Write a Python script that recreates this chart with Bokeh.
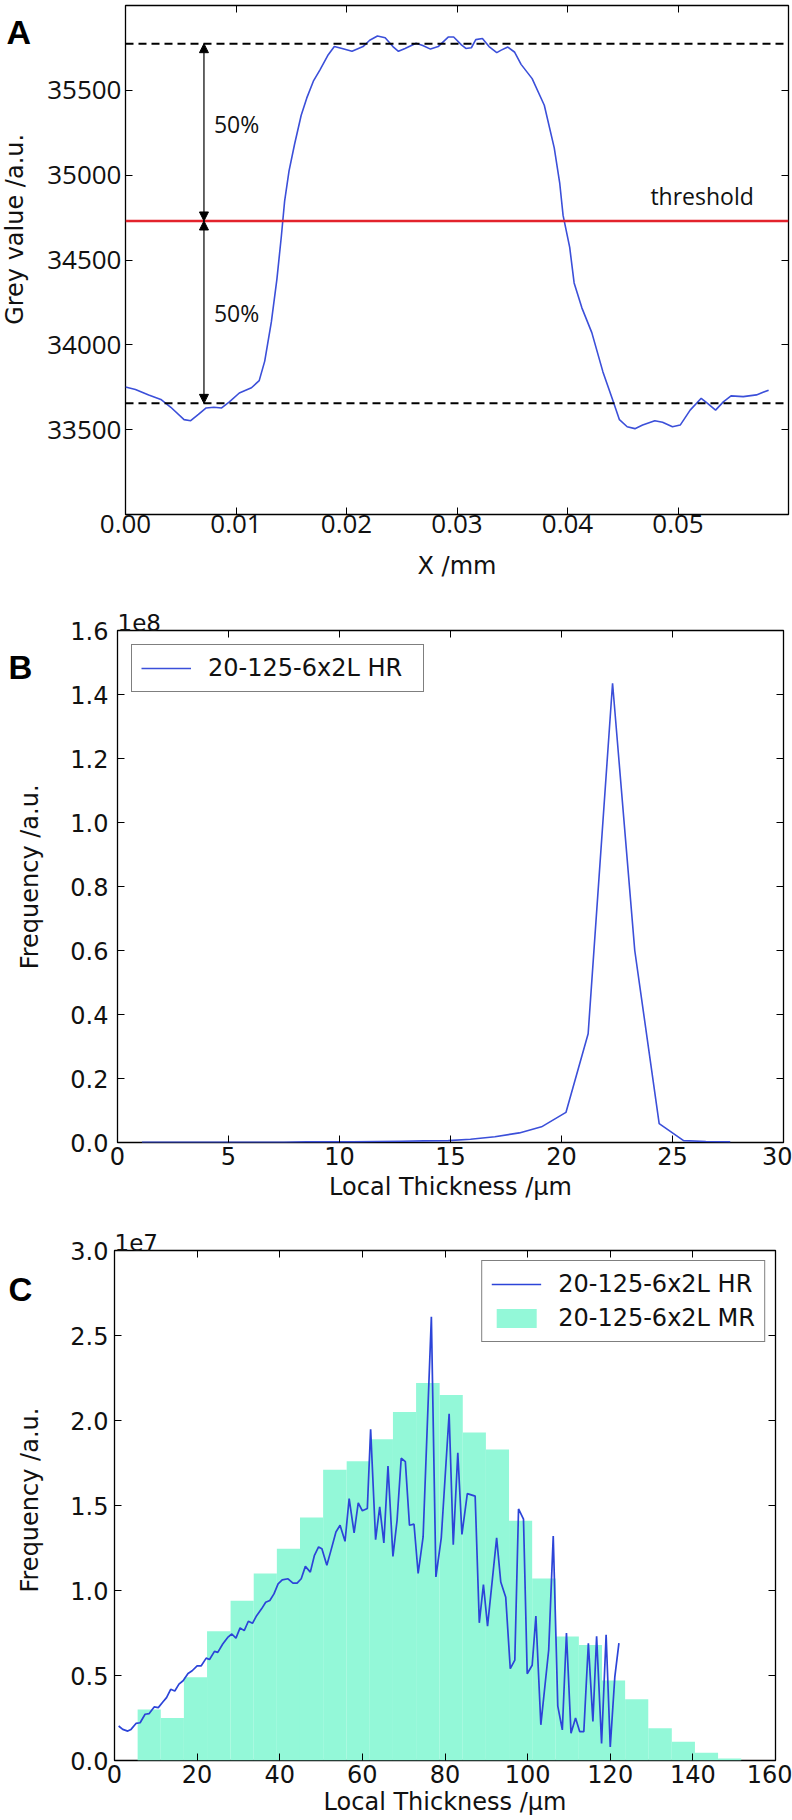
import math
from bokeh.plotting import figure
from bokeh.layouts import column, row
from bokeh.models import (Span, Arrow, NormalHead, Label, LinearAxis, FixedTicker,
                          NumeralTickFormatter, Range1d, Legend, LegendItem)
from bokeh.embed import file_html
from bokeh.resources import INLINE

# ---------------- Panel A: grey value profile ----------------
a_x_mm = [0.0000, 0.0009, 0.0021, 0.0032, 0.0041, 0.0053, 0.0059, 0.0066, 0.0073, 0.0080,
          0.0087, 0.0094, 0.0103, 0.0114, 0.0121, 0.0126, 0.0132, 0.0137, 0.0141, 0.0144,
          0.0148, 0.0153, 0.0159, 0.0164, 0.0170, 0.0176, 0.0183, 0.0189, 0.0196, 0.0205,
          0.0215, 0.0221, 0.0228, 0.0235, 0.0242, 0.0247, 0.0253, 0.0263, 0.0269, 0.0276,
          0.0283, 0.0292, 0.0297, 0.0304, 0.0308, 0.0313, 0.0317, 0.0323, 0.0329, 0.0336,
          0.0340, 0.0346, 0.0352, 0.0358, 0.0368, 0.0379, 0.0388, 0.0393, 0.0396, 0.0402,
          0.0406, 0.0413, 0.0422, 0.0432, 0.0441, 0.0447, 0.0454, 0.0461, 0.0468, 0.0479,
          0.0486, 0.0495, 0.0502, 0.0511, 0.0521, 0.0527, 0.0534, 0.0541, 0.0548, 0.0559,
          0.0571, 0.0582]
a_grey = [33751, 33737, 33705, 33678, 33632, 33559, 33553, 33590, 33628, 33632,
          33628, 33664, 33716, 33747, 33789, 33904, 34135, 34386, 34637, 34847,
          35025, 35182, 35353, 35454, 35554, 35621, 35705, 35758, 35747, 35730,
          35758, 35795, 35820, 35810, 35758, 35730, 35747, 35778, 35764, 35743,
          35758, 35814, 35814, 35768, 35747, 35751, 35799, 35806, 35758, 35722,
          35737, 35755, 35726, 35653, 35569, 35412, 35161, 34951, 34763, 34574,
          34365, 34218, 34072, 33842, 33674, 33559, 33517, 33506, 33527, 33553,
          33544, 33517, 33527, 33615, 33685, 33653, 33615, 33664, 33699, 33695,
          33705, 33733]
a_upper_level = 35775
a_lower_level = 33655
a_threshold = 34730
a_arrow_x = 0.0071
a_pct_label_x = 0.0080
a_pct_label_y = [35300, 34190]
a_threshold_label_x = 0.0475
a_threshold_label_y = 34880
a_x_ticks = [0.0, 0.01, 0.02, 0.03, 0.04, 0.05]
a_y_ticks = [33500, 34000, 34500, 35000, 35500]

# ---------------- Panel B: local thickness HR ----------------
b_thickness = [1.1, 2.2, 3.2, 4.3, 5.3, 6.4, 7.5, 8.5, 9.6, 10.6, 11.7, 12.8, 13.8,
               14.9, 15.9, 17.0, 18.1, 19.1, 20.2, 21.2, 22.3, 23.3, 24.4, 25.5, 26.5, 27.6]
b_hr_freq_1e8 = [0.001, 0.001, 0.001, 0.001, 0.001, 0.001, 0.001, 0.002, 0.002, 0.002,
                 0.003, 0.004, 0.005, 0.006, 0.010, 0.018, 0.030, 0.049, 0.094, 0.34,
                 1.435, 0.60, 0.059, 0.006, 0.003, 0.002]
b_x_ticks = [0, 5, 10, 15, 20, 25, 30]
b_y_ticks = [0.0, 0.2, 0.4, 0.6, 0.8, 1.0, 1.2, 1.4, 1.6]

# ---------------- Panel C: HR line vs MR histogram ----------------
c_hr_thickness = [1.0, 2.0, 3.2, 4.0, 5.2, 6.2, 7.4, 8.4, 9.6, 10.6, 11.6, 12.6, 13.6, 14.6,
                  15.6, 16.6, 17.8, 18.8, 20.0, 21.0, 22.2, 23.0, 24.2, 25.0, 26.2, 27.4,
                  28.4, 29.4, 30.4, 31.4, 32.4, 33.4, 34.4, 35.6, 36.6, 37.6, 38.6, 39.6,
                  40.6, 42.0, 43.2, 44.2, 45.2, 46.2, 47.4, 48.4, 49.4, 50.2, 51.4, 52.4,
                  53.6, 54.6, 55.8, 56.8, 58.0, 59.0, 60.0, 61.2, 62.0, 63.2, 64.2, 65.2,
                  66.2, 67.4, 68.4, 69.4, 70.4, 71.4, 72.5, 73.5, 74.7, 76.7, 77.8, 79.1,
                  81.0, 82.0, 83.1, 84.1, 85.4, 87.3, 88.3, 89.3, 90.3, 92.5, 93.5, 94.7,
                  95.8, 96.9, 97.8, 99.0, 99.9, 101.1, 102.0, 103.2, 105.1, 106.2, 107.3,
                  108.4, 109.4, 110.5, 111.6, 112.6, 113.6, 114.7, 115.8, 116.7, 117.9,
                  119.0, 120.0, 121.1, 122.1]
c_hr_freq_1e7 = [0.203, 0.183, 0.173, 0.183, 0.218, 0.222, 0.272, 0.276, 0.315, 0.311,
                 0.341, 0.370, 0.419, 0.409, 0.449, 0.469, 0.512, 0.528, 0.557, 0.557,
                 0.602, 0.594, 0.642, 0.636, 0.685, 0.724, 0.744, 0.720, 0.780, 0.764,
                 0.819, 0.807, 0.852, 0.892, 0.931, 0.941, 0.980, 1.039, 1.063, 1.069,
                 1.043, 1.043, 1.069, 1.142, 1.108, 1.207, 1.256, 1.246, 1.148, 1.236,
                 1.344, 1.384, 1.289, 1.541, 1.339, 1.516, 1.469, 1.482, 1.949, 1.299,
                 1.492, 1.280, 1.732, 1.201, 1.413, 1.778, 1.758, 1.384, 1.390, 1.100,
                 1.315, 2.610, 1.080, 1.310, 2.040, 1.270, 1.810, 1.330, 1.570, 1.555,
                 0.810, 1.035, 0.790, 1.310, 1.050, 0.960, 0.540, 0.590, 1.480, 1.420,
                 0.510, 0.560, 0.850, 0.210, 0.650, 1.320, 0.320, 0.180, 0.750, 0.160,
                 0.250, 0.170, 0.170, 0.690, 0.230, 0.730, 0.100, 0.740, 0.080, 0.490,
                 0.690]
c_mr_bin_edges = [5.6, 11.2, 16.8, 22.4, 28.1, 33.7, 39.3, 44.9, 50.5, 56.2, 61.8, 67.4,
                  73.0, 78.7, 84.3, 89.9, 95.5, 101.1, 106.8, 112.4, 118.0, 123.6, 129.2,
                  134.9, 140.5, 146.1, 151.7]
c_mr_freq_1e7 = [0.30, 0.25, 0.49, 0.76, 0.94, 1.10, 1.245, 1.43, 1.71, 1.76, 1.89, 2.05,
                 2.22, 2.15, 1.93, 1.83, 1.41, 1.07, 0.73, 0.68, 0.47, 0.36, 0.19, 0.11,
                 0.045, 0.012]
c_x_ticks = [0, 20, 40, 60, 80, 100, 120, 140, 160]
c_y_ticks = [0.0, 0.5, 1.0, 1.5, 2.0, 2.5, 3.0]

BLUE = "#3b4fd9"
AQUA = "#93f8d8"
LABEL_FONT = "DejaVu Sans"
TEXT_COLOR = "#111111"
SIDE_W = 44
MAIN_W = 792 - SIDE_W


def make_fig(height, xr, yr, bl, br, bt, bb):
    p = figure(width=MAIN_W, height=height, x_range=Range1d(*xr), y_range=Range1d(*yr),
               output_backend="svg", toolbar_location=None,
               min_border_left=bl, min_border_right=br, min_border_top=bt, min_border_bottom=bb)
    p.outline_line_color = "black"
    p.outline_line_width = 1.3
    p.grid.visible = False
    p.background_fill_color = "white"
    p.border_fill_color = "white"
    return p


def style_axes(p, xticks, yticks, xfmt, yfmt, tick_font, tick_size, xlabel,
               y_tick_standoff, x_tick_standoff, x_label_standoff):
    for ax in (p.xaxis[0], p.yaxis[0]):
        ax.axis_line_color = None
        ax.major_tick_in = 7
        ax.major_tick_out = 0
        ax.major_tick_line_color = "black"
        ax.major_tick_line_width = 1
        ax.minor_tick_line_color = None
        ax.major_label_text_font = tick_font
        ax.major_label_text_font_size = tick_size
        ax.major_label_text_color = TEXT_COLOR
        ax.axis_label_text_font = LABEL_FONT
        ax.axis_label_text_font_size = "24px"
        ax.axis_label_text_font_style = "normal"
        ax.axis_label_text_color = TEXT_COLOR
    p.xaxis[0].ticker = FixedTicker(ticks=xticks)
    p.yaxis[0].ticker = FixedTicker(ticks=yticks)
    p.xaxis[0].formatter = NumeralTickFormatter(format=xfmt)
    p.yaxis[0].formatter = NumeralTickFormatter(format=yfmt)
    p.xaxis[0].axis_label = xlabel
    p.yaxis[0].major_label_standoff = y_tick_standoff
    p.xaxis[0].major_label_standoff = x_tick_standoff
    p.xaxis[0].axis_label_standoff = x_label_standoff
    # unlabelled tick axes on top and right (inward ticks, like the reference frame)
    for loc, ticks in (("above", xticks), ("right", yticks)):
        ax = LinearAxis(ticker=FixedTicker(ticks=ticks), axis_line_color=None,
                        major_tick_in=7, major_tick_out=0, major_tick_line_color="black",
                        minor_tick_line_color=None, major_label_text_font_size="1px",
                        major_label_text_color=None, major_label_standoff=0)
        p.add_layout(ax, loc)


def side_fig(height, letter, letter_size, letter_x, letter_y, ylabel, ylabel_x, ylabel_y):
    s = figure(width=SIDE_W, height=height, x_range=Range1d(0, SIDE_W),
               y_range=Range1d(0, height), x_axis_type=None, y_axis_type=None,
               min_border=0, output_backend="svg", toolbar_location=None)
    s.outline_line_color = None
    s.background_fill_color = "white"
    s.border_fill_color = "white"
    s.add_layout(Label(x=letter_x, y=letter_y, text=letter, text_font="Liberation Sans",
                       text_font_style="bold", text_font_size=letter_size,
                       text_baseline="alphabetic", text_align="left", text_color="black"))
    s.add_layout(Label(x=ylabel_x, y=ylabel_y, text=ylabel, angle=math.pi / 2,
                       text_font=LABEL_FONT, text_font_size="24px", text_align="center",
                       text_baseline="middle", text_color=TEXT_COLOR))
    return s


def offset_title(p, text):
    p.title.text = text
    p.title.align = "left"
    p.title.offset = 0
    p.title.standoff = 0
    p.title.text_font = LABEL_FONT
    p.title.text_font_size = "23px"
    p.title.text_font_style = "normal"
    p.title.text_color = TEXT_COLOR


def make_legend(items, location, margin, label_width):
    return Legend(items=items, location=location, margin=margin, padding=9, spacing=6,
                  glyph_width=50, glyph_height=24, label_height=26, label_standoff=17,
                  label_width=label_width,
                  label_text_font=LABEL_FONT, label_text_font_size="24px",
                  label_text_color=TEXT_COLOR,
                  border_line_color="black", border_line_width=1.5,
                  background_fill_color="white", background_fill_alpha=1.0)


H_A, H_B, H_C = 590, 615, 613

# ---------- Panel A ----------
pa = make_fig(H_A, (0.0, 0.06), (33000, 36000), 78, 4, 5, 76)
style_axes(pa, a_x_ticks, a_y_ticks, "0.00", "0", "Open Sans", "26px",
           "X /mm", 4, 0, 16)
pa.add_layout(Span(location=a_upper_level, dimension="width", line_color="black",
                   line_dash="8 5", line_width=2))
pa.add_layout(Span(location=a_lower_level, dimension="width", line_color="black",
                   line_dash="8 5", line_width=2))
pa.add_layout(Span(location=a_threshold, dimension="width", line_color="#e3232c",
                   line_width=2.6))
pa.line(a_x_mm, a_grey, line_color=BLUE, line_width=1.6)
for y_end in (a_upper_level, a_lower_level):
    pa.add_layout(Arrow(x_start=a_arrow_x, y_start=a_threshold, x_end=a_arrow_x, y_end=y_end,
                        line_color="black", line_width=1.2,
                        start=NormalHead(size=9, fill_color="black", line_color="black"),
                        end=NormalHead(size=9, fill_color="black", line_color="black")))
for yy in a_pct_label_y:
    pa.add_layout(Label(x=a_pct_label_x, y=yy, text="50%", text_font="Open Sans",
                        text_font_size="23px", text_baseline="middle", text_align="left",
                        text_color=TEXT_COLOR))
pa.add_layout(Label(x=a_threshold_label_x, y=a_threshold_label_y, text="threshold",
                    text_font="Open Sans", text_font_size="23px", text_baseline="middle",
                    text_align="left", text_color=TEXT_COLOR))
sa = side_fig(H_A, "A", "34px", 6, H_A - 31, "Grey value /a.u.", 14.5, H_A - 259.5)

# ---------- Panel B ----------
pb = make_fig(H_B, (0, 30), (0.0, 1.6), 73, 9, 40, 63)
style_axes(pb, b_x_ticks, b_y_ticks, "0", "0.0", LABEL_FONT, "24px",
           "Local Thickness /\u03bcm", 9, 4, 5)
offset_title(pb, "1e8")
rb = pb.line(b_thickness, b_hr_freq_1e8, line_color=BLUE, line_width=1.6)
pb.add_layout(make_legend([LegendItem(label="20-125-6x2L HR", renderers=[rb])],
                          "top_left", 14, 206))
sb = side_fig(H_B, "B", "33px", 8, H_B - 45, "Frequency /a.u.", 29.5, H_B - 296)

# ---------- Panel C ----------
pc = make_fig(H_C, (0, 160), (0.0, 3.0), 70, 17, 45, 58)
style_axes(pc, c_x_ticks, c_y_ticks, "0", "0.0", LABEL_FONT, "24px",
           "Local Thickness /\u03bcm", 6, 4, 2)
offset_title(pc, "1e7")
rq = pc.quad(left=c_mr_bin_edges[:-1], right=c_mr_bin_edges[1:], bottom=0,
             top=c_mr_freq_1e7, fill_color=AQUA, line_color=None)
rc = pc.line(c_hr_thickness, c_hr_freq_1e7, line_color="#2c44d8", line_width=1.7)
pc.add_layout(make_legend([LegendItem(label="20-125-6x2L HR", renderers=[rc]),
                           LegendItem(label="20-125-6x2L MR", renderers=[rq])],
                          "top_right", 10, 190))
sc = side_fig(H_C, "C", "33px", 8, H_C - 47, "Frequency /a.u.", 29.5, H_C - 300)

layout = column(row(sa, pa, spacing=0), row(sb, pb, spacing=0), row(sc, pc, spacing=0),
                spacing=0)
open("out.html", "w").write(file_html(layout, INLINE))
